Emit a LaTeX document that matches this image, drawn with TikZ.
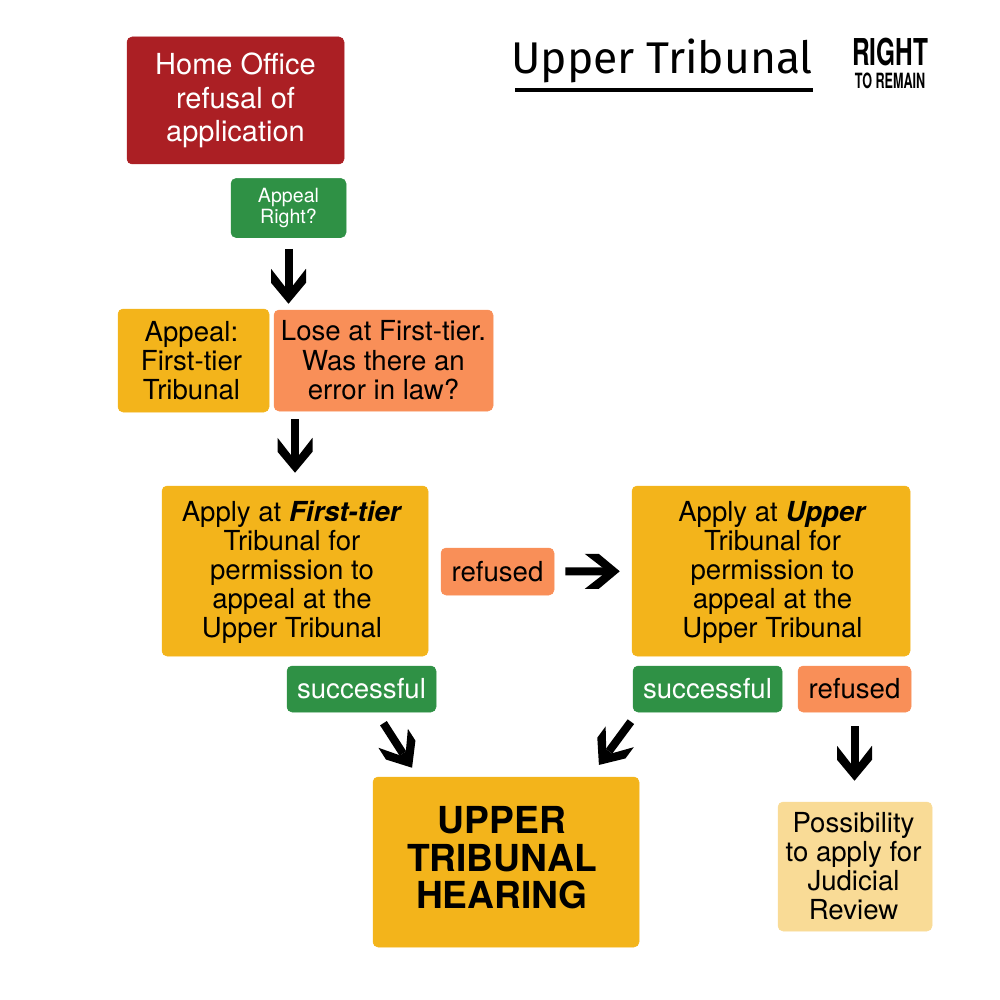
\documentclass[tikz,border=0pt]{standalone}
\usepackage{fontspec}
\usepackage{graphicx}
\setmainfont{TeX Gyre Heros}
\newfontfamily\titlefont{Fira Sans}
\usetikzlibrary{calc, arrows.meta}
\definecolor{BoxRed}{HTML}{AB1F24}
\definecolor{BoxGreen}{HTML}{2F9145}
\definecolor{BoxOrange}{HTML}{F98F58}
\definecolor{BoxAmber}{HTML}{F3B41B}
\definecolor{BoxPale}{HTML}{F9DB96}
\pgfdeclarearrow{
  name=Chevron,
  setup code={
    \pgfarrowssettipend{0pt}
    \pgfarrowssetlineend{-17pt}
    \pgfarrowssetbackend{-35pt}
    \pgfarrowssetvisualbackend{-17pt}
  },
  drawing code={
    \pgfpathmoveto{\pgfqpoint{0pt}{0pt}}
    \pgfpathlineto{\pgfqpoint{-21pt}{17.5pt}}
    \pgfpathlineto{\pgfqpoint{-35pt}{17.5pt}}
    \pgfpathlineto{\pgfqpoint{-17pt}{3.5pt}}
    \pgfpathlineto{\pgfqpoint{-17pt}{-3.5pt}}
    \pgfpathlineto{\pgfqpoint{-35pt}{-17.5pt}}
    \pgfpathlineto{\pgfqpoint{-21pt}{-17.5pt}}
    \pgfpathclose
    \pgfusepathqfill
  }
}
\tikzset{
  box/.style={rounded corners=5pt, inner sep=0pt, align=center, draw=#1, fill=#1, line width=.5pt},
  bigtext/.style={font=\fontsize{27.6}{29}\selectfont},
  boxtext/.style={bigtext, inner sep=0pt, align=center},
  heavy/.style={line width=8pt, black, -{Chevron}}
}
\begin{document}
\begin{tikzpicture}[x=1pt, y=-1pt]
\useasboundingbox (0,0) rectangle (1000,1000);
\node[box=BoxRed, text=white, minimum width=217pt, minimum height=127pt, font=\fontsize{29}{33.5}\selectfont] (Home) at (235.5,100.5) {Home Office\\refusal of\\application};
\node[box=BoxGreen, text=white, minimum width=115pt, minimum height=59pt, font=\fontsize{19.6}{21}\selectfont] (AppealRight) at (288.5,208) {Appeal\\Right?};
\node[box=BoxAmber, minimum width=151pt, minimum height=103pt] (Appeal) at (193.5,360.5) {};
\node[boxtext] (AppealText) at (191.5,360.5) {Appeal:\\First-tier\\Tribunal};
\node[box=BoxOrange, bigtext, minimum width=219pt, minimum height=101pt] (Lose) at (383.5,360.5) {Lose at First-tier.\\[1pt]Was there an\\error in law?};
\node[box=BoxAmber, minimum width=266pt, minimum height=170pt] (First) at (295,571) {};
\node[boxtext] (FirstText) at (292,572.5) {Apply at \textbf{\textit{First-tier}}\\Tribunal for\\permission to\\appeal at the\\Upper Tribunal};
\node[box=BoxOrange, bigtext, minimum width=113pt, minimum height=47pt] (RefusedM) at (497.5,571.5) {refused};
\node[box=BoxAmber, minimum width=278pt, minimum height=170pt] (Upper) at (771,571) {};
\node[boxtext] (UpperText) at (772.5,572.5) {Apply at \textbf{\textit{Upper}}\\Tribunal for\\permission to\\appeal at the\\Upper Tribunal};
\node[box=BoxGreen, bigtext, text=white, minimum width=149pt, minimum height=46pt] (SuccessL) at (361.5,689) {successful};
\node[box=BoxGreen, bigtext, text=white, minimum width=149pt, minimum height=46pt] (SuccessR) at (707.5,689) {successful};
\node[box=BoxOrange, bigtext, minimum width=113pt, minimum height=46pt] (RefusedR) at (854.5,689) {refused};
\node[box=BoxAmber, minimum width=266pt, minimum height=170pt] (Hearing) at (506,862) {};
\node[inner sep=0pt, align=center, font=\fontsize{37.2}{37.5}\selectfont\bfseries] (HearingText) at (502,858) {UPPER\\TRIBUNAL\\HEARING};
\node[box=BoxPale, bigtext, minimum width=154pt, minimum height=129pt] (Review) at (855,866.5) {};
\node[boxtext] (ReviewText) at (853.5,866.5) {Possibility\\to apply for\\Judicial\\Review};
\node[font=\titlefont\fontsize{44.4}{45}\selectfont, anchor=base, inner sep=0pt] (Title) at (662,74) {Upper Tribunal};
\coordinate (TitleL) at (515,90);
\coordinate (TitleR) at (813,90);
\draw[line width=3.5pt] (TitleL) -- (TitleR);
\node[font=\fontsize{37}{37}\selectfont\bfseries, anchor=base, inner sep=0pt] (LogoTop) at (890,66) {\scalebox{.66}[1]{RIGHT}};
\node[font=\fontsize{21}{21}\selectfont\bfseries, anchor=base, inner sep=0pt] (LogoBottom) at (890,89) {\scalebox{.6}[1]{TO REMAIN}};
\coordinate (StartR) at (638,712);
\coordinate (HitL) at (418,777);
\coordinate (HitR) at (590,777);
\draw[heavy, shorten <=11pt, shorten >=6pt] (AppealRight.south) -- (AppealRight.south |- Lose.north);
\draw[heavy, shorten <=8pt, shorten >=13pt] (First.north |- Lose.south) -- (First.north);
\draw[heavy, shorten <=11pt, shorten >=12pt] (RefusedM) -- (Upper);
\draw[heavy, shorten <=13pt, shorten >=11pt] (SuccessL) -- (HitL);
\draw[heavy, shorten <=12pt, shorten >=15pt] (StartR) -- (HitR);
\draw[heavy, shorten <=14pt, shorten >=21pt] (RefusedR.south) -- (RefusedR.south |- Review.north);
\end{tikzpicture}
\end{document}
